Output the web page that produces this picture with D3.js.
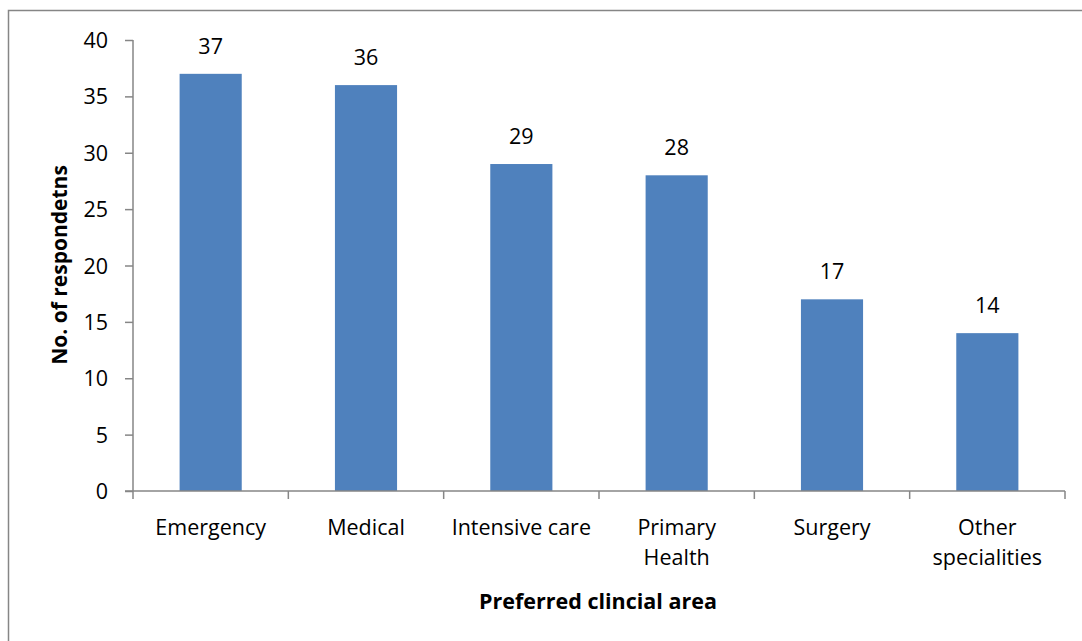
<!DOCTYPE html>
<html>
<head>
<meta charset="utf-8">
<script src="https://cdn.jsdelivr.net/npm/d3@7"></script>
<style>
  body { margin: 0; background: #fff; }
  svg text { font-family: "Open Sans", sans-serif; fill: #000; }
</style>
</head>
<body>
<svg id="chart" width="1082" height="641"></svg>
<script>
  var categories = [['Emergency'], ['Medical'], ['Intensive care'], ['Primary', 'Health'], ['Surgery'], ['Other', 'specialities']];
  var values = [37, 36, 29, 28, 17, 14];
  var yTicks = [0, 5, 10, 15, 20, 25, 30, 35, 40];

(function() {
  var svg = d3.select('#chart');
  var mLeft = 133, mRight = 1065, mTop = 40, mBottom = 491;
  var font = '"Open Sans", sans-serif';

  // outer frame (only left/top edges fall inside the picture)
  svg.append('rect')
    .attr('x', 8.5).attr('y', 10.5)
    .attr('width', 1200).attr('height', 800)
    .style('fill', 'none').style('stroke', '#868686').style('stroke-width', 1.5);

  var x = d3.scaleBand().domain(d3.range(values.length)).range([mLeft, mRight]).paddingInner(0.6).paddingOuter(0.3);
  var y = d3.scaleLinear().domain([0, 40]).range([mBottom, mTop]);

  svg.selectAll('rect.bar')
    .data(values)
    .enter().append('rect').classed('bar', true)
    .attr('x', function(d, i) { return x(i); })
    .attr('width', x.bandwidth())
    .attr('y', function(d) { return y(d); })
    .attr('height', function(d) { return y(0) - y(d); })
    .style('fill', '#4F81BD');

  svg.selectAll('text.val')
    .data(values)
    .enter().append('text').classed('val', true)
    .attr('x', function(d, i) { return x(i) + x.bandwidth() / 2; })
    .attr('y', function(d) { return y(d) - 20; })
    .attr('text-anchor', 'middle')
    .style('font-size', '21.5px')
    .text(function(d) { return d; });

  // y axis
  var yAxis = d3.axisLeft(y).tickValues(yTicks).tickSize(8).tickPadding(17);
  var gy = svg.append('g').attr('transform', 'translate(' + mLeft + ',0)').call(yAxis);
  gy.select('.domain').attr('d', 'M0,' + mTop + 'V' + mBottom).style('stroke', '#868686').style('stroke-width', 1.5);
  gy.selectAll('.tick line').style('stroke', '#868686').style('stroke-width', 1.5);
  gy.selectAll('.tick text').style('font-size', '21.5px').attr('dy', '0.35em').style('font-family', font).style('fill', '#000');

  // x axis
  var step = (mRight - mLeft) / values.length;
  var gx = svg.append('g');
  gx.append('line').attr('x1', mLeft - 8).attr('x2', mRight).attr('y1', mBottom).attr('y2', mBottom)
    .style('stroke', '#868686').style('stroke-width', 1.5);
  gx.selectAll('line.tk')
    .data(d3.range(values.length + 1))
    .enter().append('line').classed('tk', true)
    .attr('x1', function(d) { return mLeft + d * step; })
    .attr('x2', function(d) { return mLeft + d * step; })
    .attr('y1', mBottom).attr('y2', mBottom + 8)
    .style('stroke', '#868686').style('stroke-width', 1.5);

  var labels = svg.selectAll('text.cat')
    .data(categories)
    .enter().append('text').classed('cat', true)
    .attr('x', function(d, i) { return x(i) + x.bandwidth() / 2; })
    .attr('y', 535)
    .attr('text-anchor', 'middle')
    .style('font-size', '21.5px');
  labels.selectAll('tspan')
    .data(function(d) { return d; })
    .enter().append('tspan')
    .attr('x', function() { return d3.select(this.parentNode).attr('x'); })
    .attr('dy', function(d, i) { return i === 0 ? 0 : 30; })
    .text(function(d) { return d; });

  svg.append('text')
    .attr('x', (mLeft + mRight) / 2 - 1).attr('y', 609)
    .attr('text-anchor', 'middle')
    .style('font-size', '21.5px').style('font-weight', 'bold')
    .text('Preferred clincial area');

  svg.append('text')
    .attr('transform', 'translate(67,265) rotate(-90)')
    .attr('text-anchor', 'middle')
    .style('font-size', '21px').style('font-weight', 'bold')
    .text('No. of  respondetns');
})();
</script>
</body>
</html>
